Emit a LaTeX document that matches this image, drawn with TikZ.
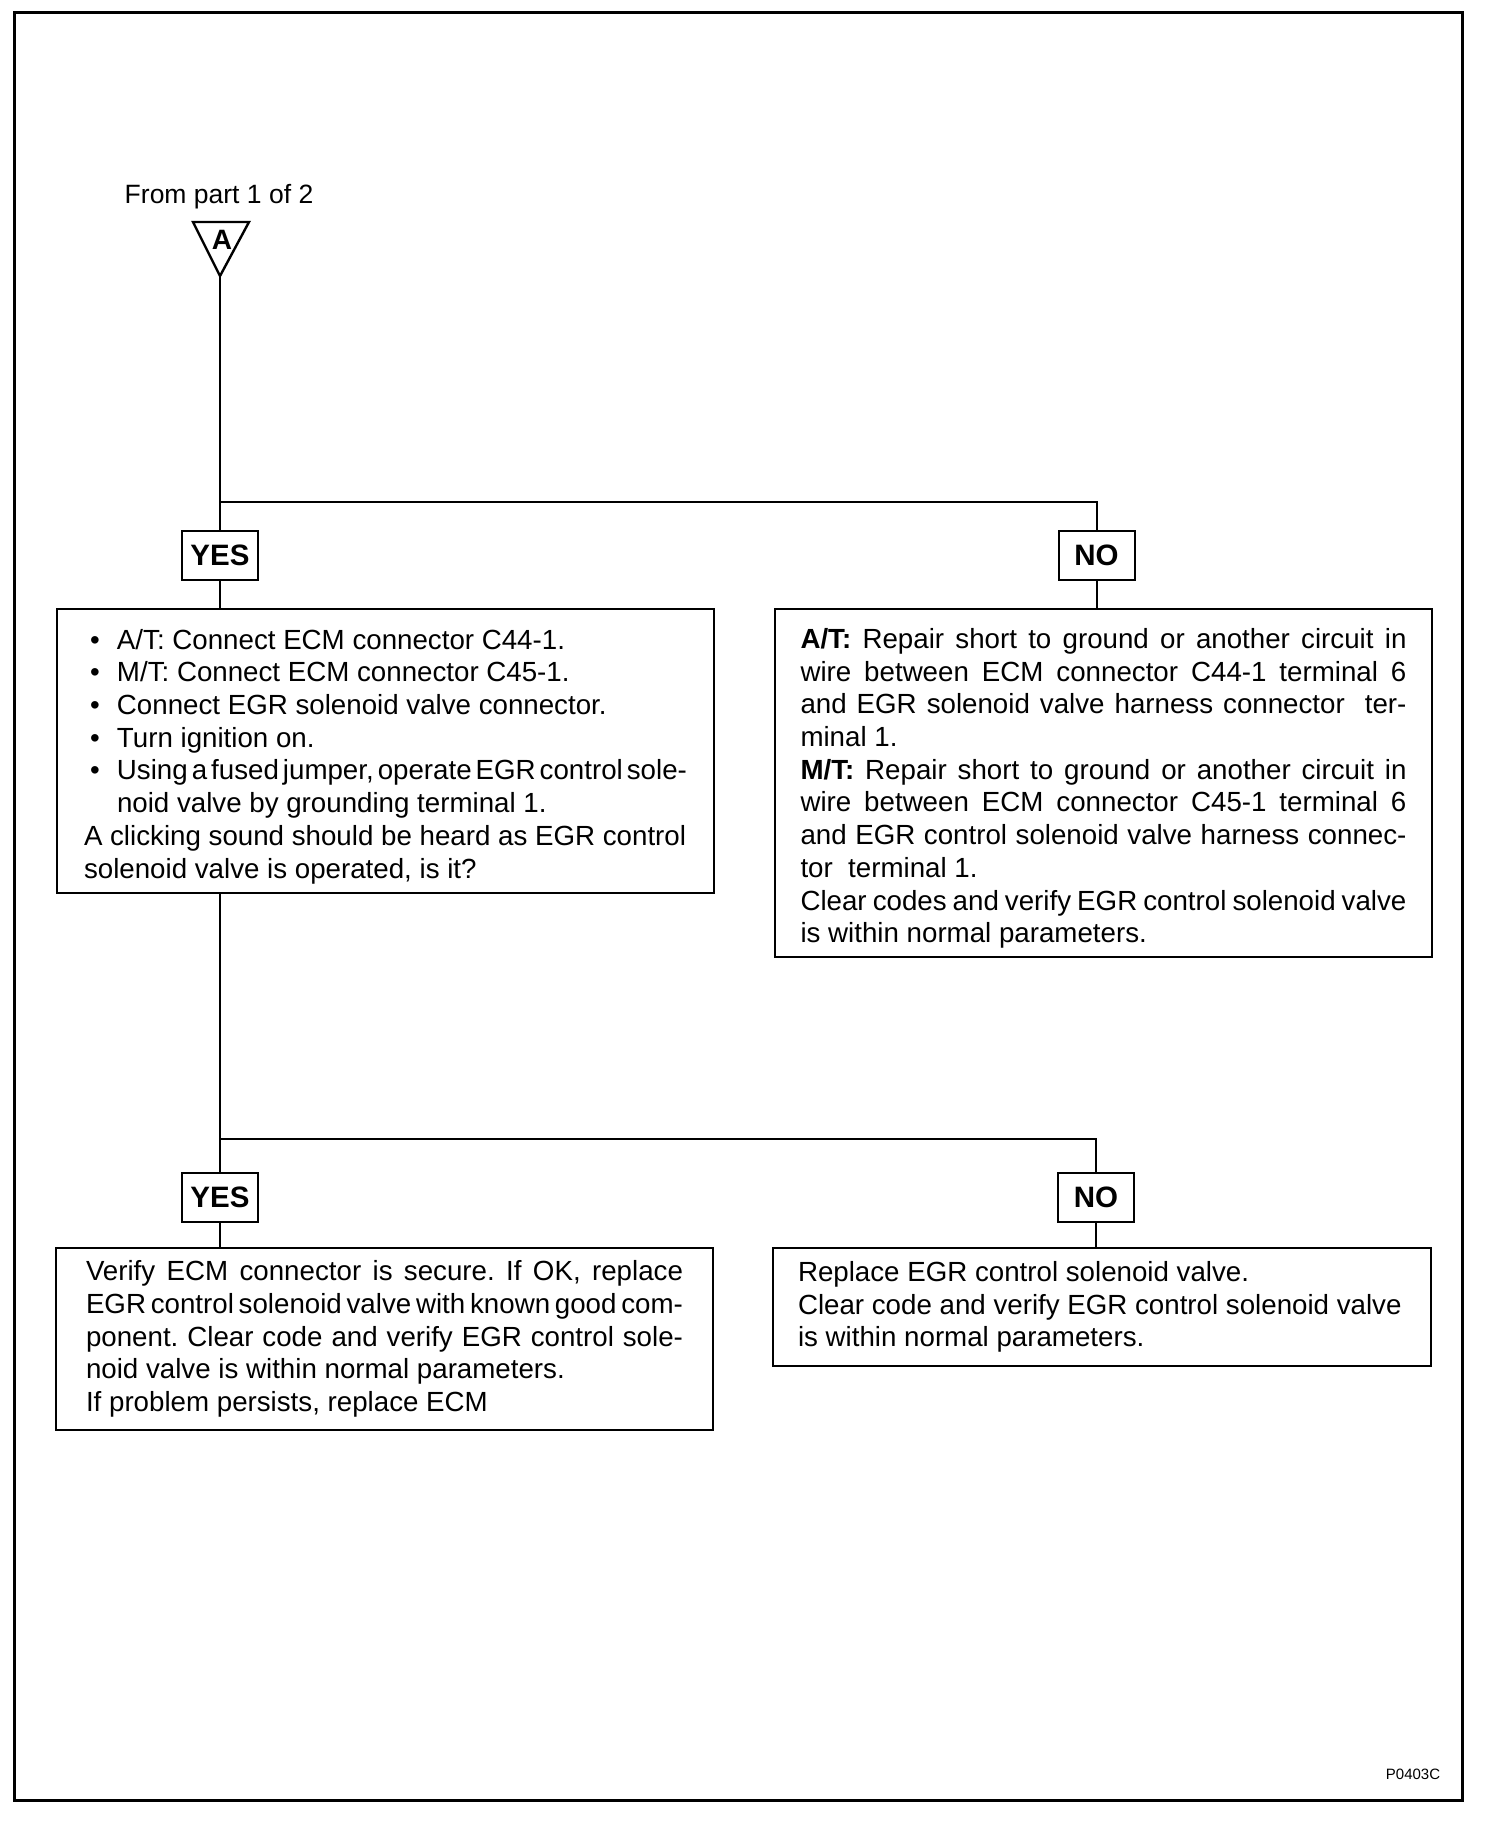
\documentclass[tikz,border=0pt]{standalone}
\usepackage{fontspec}
\setmainfont{Liberation Sans}
\frenchspacing
\newcommand\setsp{\spaceskip=0.278em plus 0.3em minus 0.16em\relax\xspaceskip=\spaceskip}
\newcommand\bulbox{\makebox[33pt][l]{\hspace{6pt}\textbullet}}
\newcommand\bul[1]{\leavevmode\hbox{\bulbox#1}}
\newcommand\jl[1]{\leavevmode\hbox to \jw{#1}}
\newcommand\nl[1]{\leavevmode\hbox{#1}}
\newcommand\topstrut{\rule{0pt}{31pt}}
\begin{document}
\begin{tikzpicture}[x=1pt,y=-1pt,
  every node/.style={font=\fontsize{27.7}{32.7}\selectfont},
  box/.style={draw, line width=2pt, anchor=north west, inner ysep=0pt, align=left},
  tag/.style={draw, line width=2pt, minimum width=76pt, minimum height=49pt, inner sep=0pt,
    font=\bfseries\fontsize{29.5}{32.6}\selectfont},
  wire/.style={line width=2pt}]
\useasboundingbox (0,0) rectangle (1504,1826);
\draw[line width=3pt] (14,12) rectangle (1462,1800);

% entry triangle
\node[font=\fontsize{26.5}{30}\selectfont] (from) at (219,197) {From part 1 of 2};
\coordinate (tl) at (193,222);
\coordinate (tr) at (249,222);
\coordinate (Atip) at (220,276);
\draw[line width=2.4pt, line join=miter] (tl) -- (tr) -- (Atip) -- cycle;
\node[font=\bfseries\fontsize{28}{30}\selectfont, inner sep=0pt] (Alab) at (222,240) {A};

% first decision
\node[tag] (yes1) at (220,555.5) {YES};
\node[tag] (no1) at (1096.5,555.5) {NO};

\node[box, text width=603pt, inner xsep=27pt, minimum height=284pt] (q1) at (56,608) {%
\setsp\def\jw{603pt}%
\bul{\topstrut A/T: Connect ECM connector C44-1.}\\
\bul{M/T: Connect ECM connector C45-1.}\\
\bul{Connect EGR solenoid valve connector.}\\
\bul{Turn ignition on.}\\
\jl{\bulbox Using a fused jumper, operate EGR control sole-}\\
\nl{\hspace*{33pt}noid valve by grounding terminal 1.}\\
\nl{A clicking sound should be heard as EGR control}\\
\nl{solenoid valve is operated, is it?}};

\node[box, text width=606pt, inner xsep=25.5pt, minimum height=348pt] (r1) at (774,608) {%
\setsp\def\jw{606pt}%
\jl{\topstrut\textbf{A/T:} Repair short to ground or another circuit in}\\
\jl{wire between ECM connector C44-1 terminal 6}\\
\jl{and EGR solenoid valve harness connector \ ter-}\\
\nl{minal 1.}\\
\jl{\textbf{M/T:} Repair short to ground or another circuit in}\\
\jl{wire between ECM connector C45-1 terminal 6}\\
\jl{and EGR control solenoid valve harness connec-}\\
\nl{tor \ terminal 1.}\\
\jl{Clear codes and verify EGR control solenoid valve}\\
\nl{is within normal parameters.}};

% second decision
\node[tag] (yes2) at (220,1197) {YES};
\node[tag] (no2) at (1096,1197) {NO};

\node[box, text width=597pt, inner xsep=30pt, minimum height=182pt] (a1) at (55,1247) {%
\setsp\def\jw{597pt}%
\jl{Verify ECM connector is secure. If OK, replace}\\
\jl{EGR control solenoid valve with known good com-}\\
\jl{ponent. Clear code and verify EGR control sole-}\\
\nl{noid valve is within normal parameters.}\\
\nl{If problem persists, replace ECM}};

\node[box, text width=608pt, inner xsep=25pt, minimum height=118pt] (a2) at (772,1247) {%
\setsp
\nl{Replace EGR control solenoid valve.}\\
\nl{Clear code and verify EGR control solenoid valve}\\
\nl{is within normal parameters.}};

\node[font=\fontsize{15}{17}\selectfont] (code) at (1413,1774) {P0403C};

% connectors
\coordinate (j1) at (220,502);
\coordinate (j2) at (220,1139);
\draw[wire] (Atip) -- (yes1.north);
\draw[wire] (j1) -| (no1.north);
\draw[wire] (yes1.south) -- (yes1.south |- q1.north);
\draw[wire] (no1.south) -- (no1.south |- r1.north);
\draw[wire] (q1.south -| yes2.north) -- (yes2.north);
\draw[wire] (j2) -| (no2.north);
\draw[wire] (yes2.south) -- (yes2.south |- a1.north);
\draw[wire] (no2.south) -- (no2.south |- a2.north);
\end{tikzpicture}
\end{document}
